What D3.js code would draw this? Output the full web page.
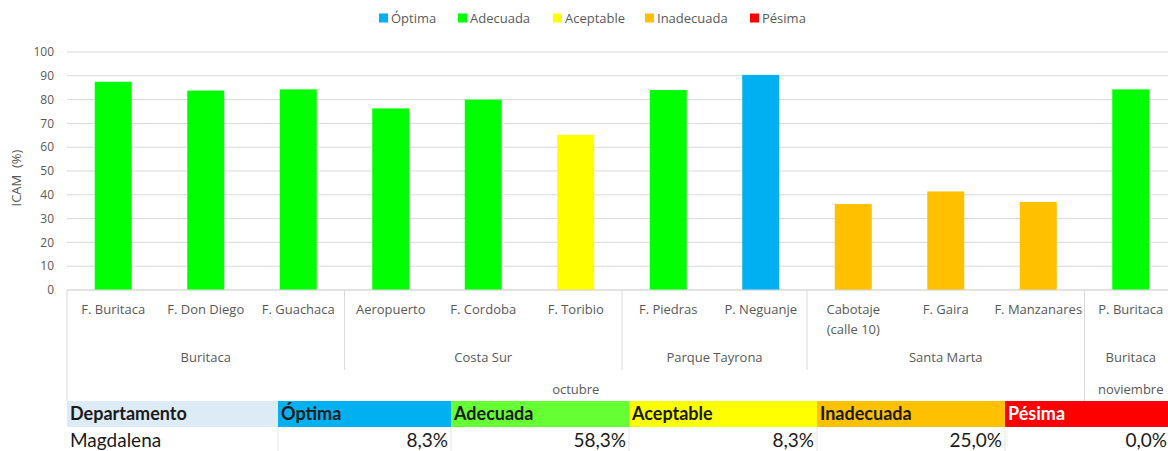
<!DOCTYPE html>
<html>
<head>
<meta charset="utf-8">
<script src="https://cdn.jsdelivr.net/npm/d3@7"></script>
<style>
  html, body { margin: 0; padding: 0; background: #fff; }
  svg { display: block; }
</style>
</head>
<body>
<svg id="chart"></svg>
<script>
// ICAM por estación — Magdalena, octubre / noviembre

const stations = ["F. Buritaca", "F. Don Diego", "F. Guachaca", "Aeropuerto", "F. Cordoba", "F. Toribio",
  "F. Piedras", "P. Neguanje", "Cabotaje\n(calle 10)", "F. Gaira", "F. Manzanares", "P. Buritaca"];
const icam = [87.5, 83.8, 84.3, 76.3, 80.0, 65.2, 84.0, 90.4, 36.1, 41.4, 37.0, 84.3];
const quality = ["Adecuada", "Adecuada", "Adecuada", "Adecuada", "Adecuada", "Aceptable",
  "Adecuada", "Óptima", "Inadecuada", "Inadecuada", "Inadecuada", "Adecuada"];
const zones = ["Buritaca", "Buritaca", "Buritaca", "Costa Sur", "Costa Sur", "Costa Sur",
  "Parque Tayrona", "Parque Tayrona", "Santa Marta", "Santa Marta", "Santa Marta", "Buritaca"];
const months = ["octubre", "octubre", "octubre", "octubre", "octubre", "octubre",
  "octubre", "octubre", "octubre", "octubre", "octubre", "noviembre"];

const classes = ["Óptima", "Adecuada", "Aceptable", "Inadecuada", "Pésima"];
const yTicks = [0, 10, 20, 30, 40, 50, 60, 70, 80, 90, 100];

const tableHead = ["Departamento", "Óptima", "Adecuada", "Aceptable", "Inadecuada", "Pésima"];
const tableRow = ["Magdalena", "8,3%", "58,3%", "8,3%", "25,0%", "0,0%"];

(function () {
  const W = 1168, H = 451;
  const M = { top: 52, left: 67, bottom: 290 };
  const STEP = 92.5;

  const BAR_COLORS = { "Óptima": "#00b0f0", "Adecuada": "#00ff00", "Aceptable": "#ffff00", "Inadecuada": "#ffc000", "Pésima": "#ff0000" };
  const HEAD_COLORS = ["#ddebf7", "#00b0f0", "#66ff33", "#ffff00", "#ffc000", "#ff0000"];
  const TEXT = "#595959";
  const GRID = "#d9d9d9";
  const FONT = "'Open Sans', sans-serif";

  const svg = d3.select("#chart").attr("width", W).attr("height", H)
    .style("font-family", FONT);

  const x = d3.scaleBand().domain(d3.range(stations.length))
    .range([M.left, M.left + STEP * stations.length])
    .paddingInner(0.6).paddingOuter(0.3);
  const y = d3.scaleLinear().domain([0, 100]).range([M.bottom, M.top]);

  // gridlines + tick labels
  svg.append("g").selectAll("line").data(yTicks).enter().append("line")
    .attr("x1", M.left).attr("x2", W)
    .attr("y1", d => y(d)).attr("y2", d => y(d))
    .attr("stroke", GRID).attr("stroke-width", 1);
  svg.append("g").selectAll("text").data(yTicks).enter().append("text")
    .attr("x", 54).attr("y", d => y(d)).attr("dy", "0.35em")
    .attr("text-anchor", "end").attr("font-size", 12).attr("fill", TEXT)
    .text(d => d);

  svg.append("text")
    .attr("transform", `translate(21,${(M.top + M.bottom) / 2 + 7}) rotate(-90)`)
    .attr("text-anchor", "middle").attr("font-size", 13).attr("fill", TEXT)
    .attr("xml:space", "preserve")
    .text("ICAM  (%)");

  // bars
  svg.append("g").selectAll("rect").data(icam).enter().append("rect")
    .attr("x", (d, i) => x(i)).attr("width", x.bandwidth())
    .attr("y", d => y(d)).attr("height", d => y(0) - y(d))
    .attr("fill", (d, i) => BAR_COLORS[quality[i]]);

  // multi-level category axis
  const edge = i => M.left + STEP * i;
  const L1 = 309, L2 = 357, L3 = 389;
  const axis = svg.append("g");

  axis.append("line").attr("x1", M.left).attr("x2", W)
    .attr("y1", y(0)).attr("y2", y(0)).attr("stroke", GRID);

  stations.forEach((s, i) => {
    const t = axis.append("text")
      .attr("x", x(i) + x.bandwidth() / 2).attr("y", L1)
      .attr("text-anchor", "middle").attr("font-size", 13).attr("fill", TEXT);
    s.split("\n").forEach((part, k) => {
      t.append("tspan").attr("x", x(i) + x.bandwidth() / 2)
        .attr("dy", k === 0 ? "0.38em" : 20).text(part);
    });
  });

  // runs of consecutive equal values
  function runs(arr) {
    const out = [];
    arr.forEach((v, i) => {
      const last = out[out.length - 1];
      if (last && last.name === v) last.end = i + 1;
      else out.push({ name: v, start: i, end: i + 1 });
    });
    return out;
  }

  const monthRuns = runs(months);
  const zoneRuns = runs(zones.map((z, i) => z + "|" + months[i])).map(r => ({ ...r, name: r.name.split("|")[0] }));

  zoneRuns.forEach(r => {
    axis.append("text")
      .attr("x", (edge(r.start) + edge(r.end)) / 2).attr("y", L2).attr("dy", "0.38em")
      .attr("text-anchor", "middle").attr("font-size", 13).attr("fill", TEXT)
      .text(r.name);
    if (r.start > 0) {
      axis.append("line").attr("x1", edge(r.start)).attr("x2", edge(r.start))
        .attr("y1", y(0)).attr("y2", 370).attr("stroke", GRID);
    }
  });
  monthRuns.forEach(r => {
    axis.append("text")
      .attr("x", (edge(r.start) + edge(r.end)) / 2).attr("y", L3).attr("dy", "0.38em")
      .attr("text-anchor", "middle").attr("font-size", 13).attr("fill", TEXT)
      .text(r.name);
    axis.append("line").attr("x1", edge(r.start)).attr("x2", edge(r.start))
      .attr("y1", y(0)).attr("y2", 401).attr("stroke", GRID);
  });

  // legend
  const legend = svg.append("g").attr("transform", "translate(0,18)");
  const legendX = [379, 458, 553, 645, 750];
  classes.forEach((c, i) => {
    legend.append("rect").attr("x", legendX[i]).attr("y", -4.5).attr("width", 9).attr("height", 9)
      .attr("fill", BAR_COLORS[c]);
    legend.append("text").attr("x", legendX[i] + 12).attr("y", 0).attr("dy", "0.36em")
      .attr("font-size", 13).attr("fill", TEXT).text(c);
  });

  // summary table
  const colX = [67, 278, 451, 629, 817, 1005, 1170];
  const table = svg.append("g").style("font-family", "Lato, 'Open Sans', sans-serif");
  tableHead.forEach((h, i) => {
    table.append("rect").attr("x", colX[i]).attr("y", 401)
      .attr("width", (i === 5 ? W : colX[i + 1]) - colX[i]).attr("height", 26)
      .attr("fill", HEAD_COLORS[i]);
    table.append("text").attr("x", colX[i] + 3).attr("y", 414).attr("dy", "0.36em")
      .attr("font-size", 18).attr("font-weight", 700)
      .attr("fill", i === 5 ? "#ffffff" : "#1a1a1a").text(h);
  });
  tableRow.forEach((v, i) => {
    const t = table.append("text").attr("y", 440).attr("dy", "0.36em")
      .attr("font-size", 19).attr("fill", "#1a1a1a").text(v);
    if (i === 0) t.attr("x", colX[0] + 3);
    else t.attr("x", colX[i + 1] - 3).attr("text-anchor", "end");
  });
  table.selectAll("line.cell").data(colX.slice(1, 6)).enter().append("line")
    .attr("x1", d => d).attr("x2", d => d).attr("y1", 427).attr("y2", 451)
    .attr("stroke", "#e6e6e6");
})();
</script>
</body>
</html>
